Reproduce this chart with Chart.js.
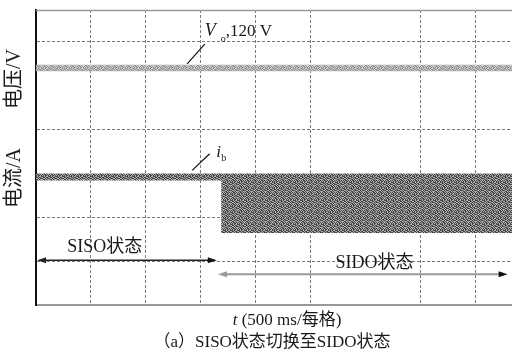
<!DOCTYPE html>
<html>
<head>
<meta charset="utf-8">
<script src="https://cdn.jsdelivr.net/npm/chart.js@4.4.1/dist/chart.umd.min.js"></script>
<style>
  html, body { margin: 0; padding: 0; background: #fff; }
  canvas { display: block; }
</style>
</head>
<body>
<canvas id="c" width="512" height="356"></canvas>
<script>
// Horizontal axis: time in divisions (500 ms per division). Vertical axis: screen divisions.
const xRange = [0, 8.66];
const yRange = [0, 6.73];
const xGrid = [1, 2, 3, 4, 5, 7, 8];
const yGrid = [1, 2, 4, 6];

// Output voltage trace (upper and lower edge of the ripple band)
const vTime = [0, 8.66];
const vUpper = [5.48, 5.48];
const vLower = [5.33, 5.33];

// Inductor current trace: narrow band in SISO mode, wide band after the switch to SIDO
const iTime = [0, 3.37, 3.37, 8.66];
const iUpper = [3.0, 3.0, 3.0, 3.0];
const iLower = [2.84, 2.84, 1.64, 1.64];

// Operating modes and their spans on the time axis
const modeNames = ['SISO状态', 'SIDO状态'];
const modeStart = [0.02, 3.31];
const modeEnd = [3.29, 8.58];
const modeLevel = [1.02, 0.70];
const modeLabelX = [1.25, 6.16];
const modeLabelY = [1.32, 0.95];

// Trace labels with leader lines
const vLabelAt = [3.07, 6.14];
const vLeader = [[2.75, 5.5], [3.07, 5.95]];
const iLabelAt = [3.28, 3.38];
const iLeader = [[2.84, 3.07], [3.16, 3.45]];

const SERIF = '"Liberation Serif", "Noto Sans CJK SC", serif';
const canvas = document.getElementById('c');
const mainCtx = canvas.getContext('2d');

// Small fixed dither tile used to give the sampled traces their grainy look
const tile = [
  '1011010',
  '0101101',
  '1101001',
  '0110110',
  '1001011',
  '0110100'
];
function grain(dark, light) {
  const t = document.createElement('canvas');
  t.width = tile[0].length;
  t.height = tile.length;
  const g = t.getContext('2d');
  tile.forEach((row, y) => [...row].forEach((ch, x) => {
    g.fillStyle = ch === '1' ? dark : light;
    g.fillRect(x, y, 1, 1);
  }));
  return mainCtx.createPattern(t, 'repeat');
}
const vFill = grain('#959595', '#cfcfcf');
const iFill = grain('#474747', '#adadad');

const pts = (xs, ys) => xs.map((x, i) => ({ x, y: ys[i] }));
const edge = { borderColor: 'rgba(0,0,0,0)', borderWidth: 0, pointRadius: 0, tension: 0 };

function arrowHead(ctx, x, y, dir, color) {
  ctx.fillStyle = color;
  ctx.beginPath();
  ctx.moveTo(x, y);
  ctx.lineTo(x - dir * 9, y - 3);
  ctx.lineTo(x - dir * 9, y + 3);
  ctx.closePath();
  ctx.fill();
}

const overlay = {
  id: 'overlay',
  afterDraw(chart) {
    const { ctx, chartArea: a, scales: { x, y } } = chart;
    const px = v => x.getPixelForValue(v);
    const py = v => y.getPixelForValue(v);
    ctx.save();

    // top frame line
    ctx.strokeStyle = '#9a9a9a';
    ctx.lineWidth = 1.5;
    ctx.beginPath();
    ctx.moveTo(a.left, a.top + 0.5);
    ctx.lineTo(a.right, a.top + 0.5);
    ctx.stroke();

    // mode span arrows
    const lineColors = ['#222', '#9a9a9a'];
    const leftHead = ['#222', '#9a9a9a'];
    modeNames.forEach((name, i) => {
      const x1 = px(modeStart[i]), x2 = px(modeEnd[i]), yy = py(modeLevel[i]);
      ctx.strokeStyle = lineColors[i];
      ctx.lineWidth = i === 0 ? 1.4 : 2;
      ctx.beginPath();
      ctx.moveTo(x1 + 4, yy);
      ctx.lineTo(x2 - 4, yy);
      ctx.stroke();
      arrowHead(ctx, x1, yy, -1, leftHead[i]);
      arrowHead(ctx, x2, yy, 1, '#111');
      ctx.fillStyle = '#1a1a1a';
      ctx.font = '18px ' + SERIF;
      ctx.textAlign = 'center';
      ctx.textBaseline = 'middle';
      ctx.fillText(name, px(modeLabelX[i]), py(modeLabelY[i]));
    });

    // leader lines
    ctx.strokeStyle = '#111';
    ctx.lineWidth = 1.2;
    [vLeader, iLeader].forEach(l => {
      ctx.beginPath();
      ctx.moveTo(px(l[0][0]), py(l[0][1]));
      ctx.lineTo(px(l[1][0]), py(l[1][1]));
      ctx.stroke();
    });

    // trace labels
    ctx.fillStyle = '#1a1a1a';
    ctx.textAlign = 'left';
    ctx.textBaseline = 'alphabetic';
    let lx = px(vLabelAt[0]), ly = py(vLabelAt[1]);
    ctx.font = 'italic 18px ' + SERIF;
    ctx.fillText('V', lx, ly);
    ctx.font = '10px ' + SERIF;
    ctx.fillText('o', lx + 16, ly + 6);
    ctx.font = '17px ' + SERIF;
    ctx.fillText(',120 V', lx + 21, ly);

    lx = px(iLabelAt[0]); ly = py(iLabelAt[1]);
    ctx.font = 'italic 17px ' + SERIF;
    ctx.fillText('i', lx, ly);
    ctx.font = '10px ' + SERIF;
    ctx.fillText('b', lx + 5, ly + 4);

    // vertical axis titles
    ctx.font = '20px ' + SERIF;
    ctx.textAlign = 'center';
    ctx.textBaseline = 'middle';
    [['电压/V', 79], ['电流/A', 178]].forEach(([t, cy]) => {
      ctx.save();
      ctx.translate(15, cy);
      ctx.rotate(-Math.PI / 2);
      ctx.fillText(t, 0, 0);
      ctx.restore();
    });

    // horizontal axis title and caption
    const tx = 287, ty = 321;
    ctx.textAlign = 'left';
    ctx.font = 'italic 17px ' + SERIF;
    const tW = ctx.measureText('t').width;
    ctx.font = '17px ' + SERIF;
    const rest = ' (500 ms/每格)';
    const rW = ctx.measureText(rest).width;
    const start = tx - (tW + rW) / 2;
    ctx.font = 'italic 17px ' + SERIF;
    ctx.fillText('t', start, ty);
    ctx.font = '17px ' + SERIF;
    ctx.fillText(rest, start + tW, ty);

    ctx.textAlign = 'center';
    ctx.fillText('（a）SISO状态切换至SIDO状态', 272, 343);
    ctx.restore();
  }
};

new Chart(canvas, {
  type: 'line',
  data: {
    datasets: [
      { ...edge, data: pts(vTime, vUpper), fill: false },
      { ...edge, data: pts(vTime, vLower), fill: '-1', backgroundColor: vFill },
      { ...edge, data: pts(iTime, iUpper), fill: false },
      { ...edge, data: pts(iTime, iLower), fill: '-1', backgroundColor: iFill }
    ]
  },
  options: {
    responsive: false,
    animation: false,
    events: [],
    layout: { padding: { left: 36, top: 10, right: 0, bottom: 51 } },
    plugins: { legend: { display: false }, tooltip: { enabled: false } },
    scales: {
      x: {
        type: 'linear', min: xRange[0], max: xRange[1],
        afterBuildTicks: s => { s.ticks = xGrid.map(v => ({ value: v })); },
        ticks: { display: false },
        grid: { color: '#7a7a7a', lineWidth: 1, drawTicks: false },
        border: { display: true, color: '#9a9a9a', width: 2, dash: [3, 2] }
      },
      y: {
        type: 'linear', min: yRange[0], max: yRange[1],
        afterBuildTicks: s => { s.ticks = yGrid.map(v => ({ value: v })); },
        ticks: { display: false },
        grid: { color: '#7a7a7a', lineWidth: 1, drawTicks: false },
        border: { display: true, color: '#111', width: 2, dash: [3, 2] }
      }
    }
  },
  plugins: [overlay]
});
</script>
</body>
</html>
